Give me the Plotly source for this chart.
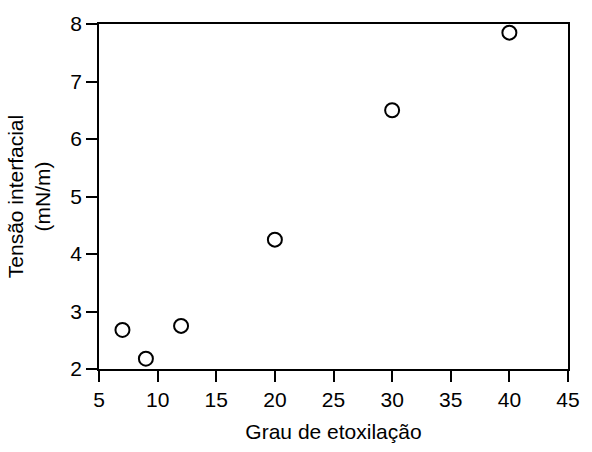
import plotly.graph_objects as go

grau = [7, 9, 12, 20, 30, 40]
tensao = [2.68, 2.18, 2.75, 4.25, 6.5, 7.85]
x_ticks = [5, 10, 15, 20, 25, 30, 35, 40, 45]
y_ticks = [2, 3, 4, 5, 6, 7, 8]

fig = go.Figure()
fig.add_trace(go.Scatter(
    x=grau, y=tensao, mode="markers",
    marker=dict(symbol="circle-open", size=14, color="black", line=dict(width=2, color="black")),
    showlegend=False, cliponaxis=False,
))

fam = "Liberation Sans, Arial, sans-serif"
fsize = 21
fig.update_layout(
    width=592, height=452,
    margin=dict(l=99, r=14, t=18, b=75),
    paper_bgcolor="white", plot_bgcolor="white",
    font=dict(family=fam, size=fsize, color="black"),
)
fig.update_xaxes(
    range=[5, 45], tickvals=x_ticks, ticks="outside", ticklen=11, tickwidth=1.6, tickcolor="black",
    showline=True, linecolor="black", linewidth=1.6, mirror=True, showgrid=False, zeroline=False,
    tickfont=dict(family=fam, size=fsize, color="black"),
    title=dict(text="Grau de etoxilação", standoff=14, font=dict(family=fam, size=fsize, color="black")),
)
fig.update_yaxes(
    range=[2, 8], tickvals=y_ticks, ticks="outside", ticklen=11, tickwidth=1.6, tickcolor="black",
    showline=True, linecolor="black", linewidth=1.6, mirror=True, showgrid=False, zeroline=False,
    tickfont=dict(family=fam, size=fsize, color="black"),
    title=dict(text="Tensão interfacial<br>(mN/m)", standoff=14, font=dict(family=fam, size=fsize, color="black")),
)
fig.write_html(
    "out.html",
    config={"displayModeBar": False},
    post_script="document.body.style.margin='0';document.body.style.overflow='hidden';",
)
